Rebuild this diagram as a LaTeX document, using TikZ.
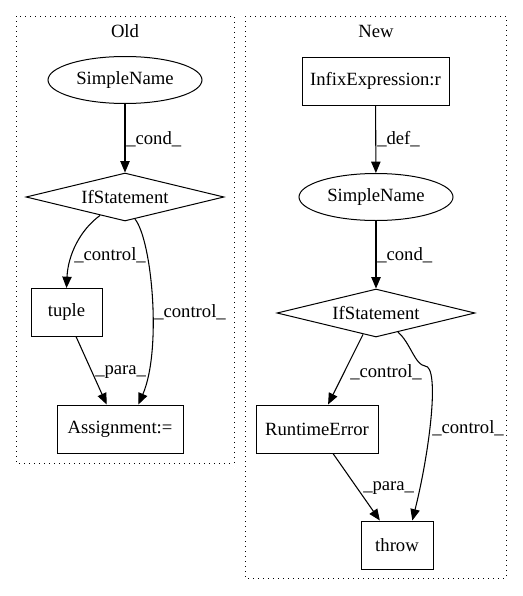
\documentclass[tikz,border=0pt]{standalone}
\usepackage{fontspec}
\setmainfont{Liberation Serif}
\usetikzlibrary{shapes.geometric,arrows.meta,calc}

\begin{document}
\begin{tikzpicture}[x=0.75pt, y=-0.75pt,
	every node/.style={font=\fontsize{14}{16}\selectfont},
	box/.style={draw, line width=0.75pt, rectangle, minimum height=36pt, inner sep=0pt},
	oval/.style={draw, line width=0.75pt, ellipse, minimum width=115.5pt, minimum height=35.25pt, inner sep=0pt},
	cond/.style={draw, line width=0.75pt, diamond, aspect=4.1, minimum width=148.5pt, minimum height=36pt, inner sep=0pt},
	cluster/.style={line width=0.75pt, dash pattern=on 0.75pt off 3pt},
	edge/.style={line width=0.8pt, -{Triangle[length=8.5pt, width=7pt]}},
	lbl/.style={anchor=west, inner sep=0pt}]
			\useasboundingbox (0,0) rectangle (523,596);
			% Old
			\draw[cluster] (16,16) rectangle (234,463);
			\node (oldtitle) at (125,31) {Old};
			\node[oval] (oldname) at (125,80) {SimpleName};
			\node[cond] (oldif) at (125,197) {IfStatement};
			\node[box, minimum width=53.25pt] (tuple) at (66.5,312.5) {tuple};
			\node[box, minimum width=94.5pt] (assign) at (120,429) {Assignment:=};
			\draw[edge] (oldname) -- (oldif);
			\node[lbl] (oldcondlbl) at (126,139) {\_cond\_};
			\draw[edge] ($(oldif.south)!0.25!(oldif.west)$) .. controls (80,230) and (68,255) .. (tuple.north);
			\node[lbl] (oldctrllbl) at (74,255) {\_control\_};
			\draw[edge] ($(oldif.south)!0.1!(oldif.east)$) .. controls (152,240) and (162,350) .. ($(assign.north)!0.29!(assign.north east)$);
			\node[lbl] (oldctrllbl2) at (154,312) {\_control\_};
			\draw[edge] ($(tuple.south)!0.27!(tuple.south east)$) -- ($(assign.north west)!0.79!(assign.north)$);
			\node[lbl] (oldparalbl) at (95,372) {\_para\_};
			% New
			\draw[cluster] (245,16) rectangle (506,578);
			\node (newtitle) at (376,31) {New};
			\node[box, minimum width=110.25pt] (infix) at (375.5,81) {InfixExpression:r};
			\node[oval] (newname) at (376,197) {SimpleName};
			\node[cond] (newif) at (376,313) {IfStatement};
			\node[box, minimum width=91.5pt] (runtime) at (317,429) {RuntimeError};
			\node[box, minimum width=54pt] (throw) at (397,545) {throw};
			\draw[edge] (infix) -- (newname);
			\node[lbl] (deflbl) at (377,139) {\_def\_};
			\draw[edge] (newname) -- (newif);
			\node[lbl] (newcondlbl) at (377,255) {\_cond\_};
			\draw[edge] ($(newif.south)!0.13!(newif.west)$) -- ($(runtime.north)!0.18!(runtime.north east)$);
			\node[lbl] (newctrllbl) at (350,372) {\_control\_};
			\draw[edge] ($(newif.south)!0.22!(newif.east)$) .. controls (410,342) and (415,365) .. (425,366) .. controls (440,366) and (430,450) .. ($(throw.north)!0.42!(throw.north east)$);
			\node[lbl] (newctrllbl2) at (432,428) {\_control\_};
			\draw[edge] ($(runtime.south)!0.26!(runtime.south east)$) -- ($(throw.north west)!0.53!(throw.north)$);
			\node[lbl] (newparalbl) at (363,488) {\_para\_};
\end{tikzpicture}
\end{document}
